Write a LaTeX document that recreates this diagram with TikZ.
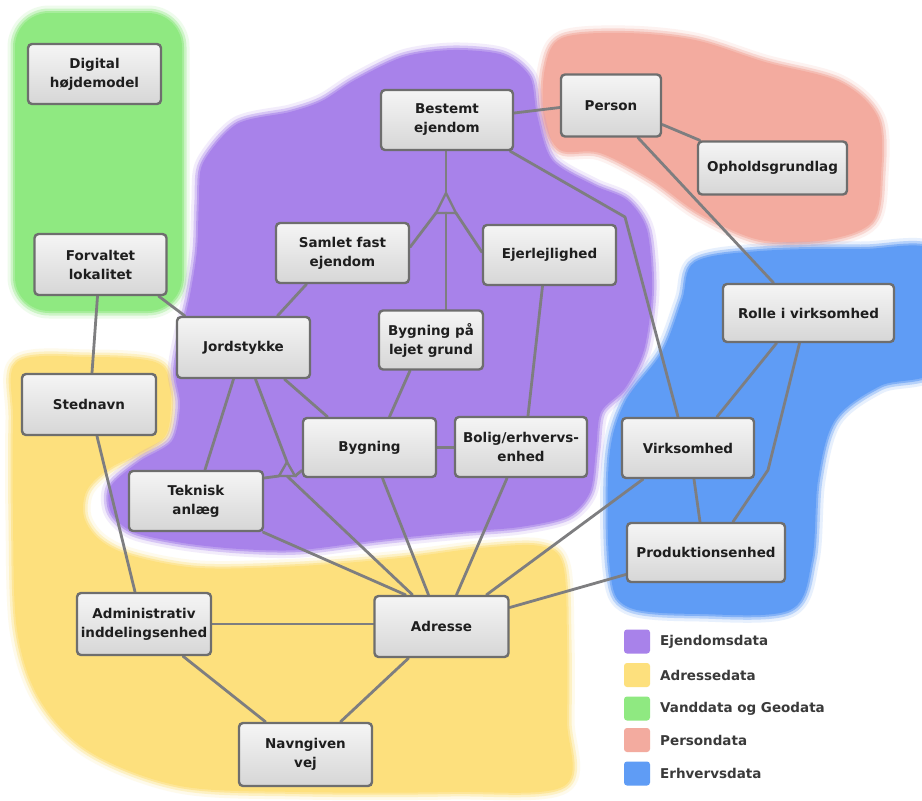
\documentclass[tikz,border=0pt]{standalone}
\usepackage{fontspec}
\setmainfont{DejaVu Sans}
\usetikzlibrary{calc}
\pgfdeclarelayer{bg}
\pgfdeclarelayer{lines}
\pgfsetlayers{bg,lines,main}
\definecolor{cP}{HTML}{A882EA}
\definecolor{cY}{HTML}{FDE07D}
\definecolor{cG}{HTML}{8FE981}
\definecolor{cR}{HTML}{F3AB9F}
\definecolor{cB}{HTML}{5F9CF5}
\definecolor{cBorder}{HTML}{6E6E6E}
\definecolor{cLine}{HTML}{7E7E80}
\definecolor{cTop}{HTML}{F5F5F5}
\definecolor{cBot}{HTML}{D6D6D6}
\definecolor{cText}{HTML}{1E1E1E}
\definecolor{cLeg}{HTML}{3A3A3A}
\begin{document}
\begin{tikzpicture}[x=1pt,y=-1pt,
  blob/.style={fill=#1, draw=#1, line width=4pt, draw opacity=0.6, line join=round,
    preaction={draw=#1, line width=9pt, draw opacity=0.35, line join=round},
    preaction={draw=#1, line width=15pt, draw opacity=0.15, line join=round}},
  ent/.style={draw=cBorder, line width=2.4pt, rounded corners=4pt, top color=cTop, bottom color=cBot,
    text=cText, font=\bfseries\fontsize{13.5}{19}\selectfont, align=center, inner sep=1pt},
  sz/.style 2 args={minimum width=#1pt, minimum height=#2pt},
  conn/.style={draw=cLine, line width=2.8pt, line cap=round, line join=round},
  gen/.style={draw=cLine, line width=2.4pt, line join=miter},
  legsq/.style={rounded corners=3pt, minimum width=26pt, minimum height=24pt, inner sep=0pt},
  legtxt/.style={anchor=west, text=cLeg, font=\bfseries\fontsize{13.5}{16}\selectfont, inner sep=0pt}
]
\useasboundingbox (0,0) rectangle (922,801);

% ---- coloured regions ----
\begin{pgfonlayer}{bg}
\fill[white] (0,0) rectangle (922,801);
\path[blob=cY] plot[smooth cycle, tension=0.55] coordinates {
  (17,362) (90,357) (155,362) (170,385) (168,430) (150,448) (110,468) (87,490) (84,517)
  (100,540) (133,556) (200,568) (300,566) (400,558) (480,548) (540,546) (563,565)
  (567,640) (567,720) (564,786) (450,792) (300,792) (180,786) (90,752) (40,700)
  (17,630) (13,520) (13,420)};
\path[blob=cG] [rounded corners=34pt] (15,13) rectangle (182,311);
\path[blob=cR] plot[smooth cycle, tension=0.55] coordinates {
  (562,38) (625,33) (695,40) (765,62) (840,82) (878,118) (881,175) (872,222) (825,240)
  (760,240) (700,214) (652,180) (600,153) (560,150) (544,118) (545,68)};
\path[blob=cB] plot[smooth cycle, tension=0.55] coordinates {
  (695,262) (760,251) (860,249) (940,255) (940,365) (880,386) (835,420) (818,480)
  (812,560) (790,610) (700,614) (628,607) (610,570) (609,460) (625,402) (662,352) (682,300)};
\path[blob=cP] plot[smooth cycle, tension=0.5] coordinates {
  (203,163) (237,124) (290,112) (322,101) (355,80) (403,57) (453,50) (503,55) (530,77)
  (537,115) (552,160) (593,185) (627,200) (647,230) (652,290) (644,350) (625,388)
  (601,412) (596,450) (590,492) (568,516) (520,527) (460,532) (380,540) (300,550)
  (240,549) (183,543) (133,532) (111,512) (111,486) (140,461) (172,441) (180,405)
  (175,372) (181,335) (190,295) (197,250) (199,200)};
\end{pgfonlayer}

% ---- entities ----
\node[ent, sz={133}{60}] (dig)   at (94.5,74)  {Digital\\højdemodel};
\node[ent, sz={132}{61}] (forv)  at (100.5,264.5) {Forvaltet\\lokalitet};
\node[ent, sz={134}{61}] (sted)  at (89,404.5) {Stednavn};
\node[ent, sz={132}{60}] (best)  at (447,120)  {Bestemt\\ejendom};
\node[ent, sz={100}{62}] (pers)  at (611,105.5) {Person};
\node[ent, sz={149}{53}] (oph)   at (772.5,168) {Opholdsgrundlag};
\node[ent, sz={133}{60}] (saml)  at (342.5,253) {Samlet fast\\ejendom};
\node[ent, sz={133}{60}] (ejer)  at (549.5,255) {Ejerlejlighed};
\node[ent, sz={133}{61}] (jord)  at (243.5,347.5) {Jordstykke};
\node[ent, sz={104}{59}] (blg)   at (431,340)  {Bygning på\\lejet grund};
\node[ent, sz={171}{58}] (rolle) at (808.5,313) {Rolle i virksomhed};
\node[ent, sz={133}{59}] (byg)   at (369.5,447.5) {Bygning};
\node[ent, sz={132}{60}] (bolig) at (521,447)  {Bolig/erhvervs-\\enhed};
\node[ent, sz={132}{60}] (virk)  at (688,448)  {Virksomhed};
\node[ent, sz={134}{60}] (tek)   at (196,501)  {Teknisk\\anlæg};
\node[ent, sz={158}{59}] (prod)  at (706,552.5) {Produktionsenhed};
\node[ent, sz={134}{62}] (adm)   at (144,624)  {Administrativ\\inddelingsenhed};
\node[ent, sz={134}{61}] (adr)   at (441.5,626.5) {Adresse};
\node[ent, sz={133}{63}] (navn)  at (305.5,754.5) {Navngiven\\vej};

% ---- bend points and generalisation triangles ----
\coordinate (k1) at (625,217);
\coordinate (k2) at (768,470);
\coordinate (g1) at (446,193);
\coordinate (g1l) at (436,213);
\coordinate (g1r) at (456,213);
\coordinate (g1b) at (446,213);
\coordinate (g2) at (287,462);
\coordinate (g2l) at (279,476);
\coordinate (g2r) at (295,476);
\coordinate (g2b) at (287,476);

% ---- connectors ----
\begin{pgfonlayer}{lines}
\draw[conn] ([xshift=-9pt]forv.south east) -- ([xshift=9pt]jord.north west);
\draw[conn] ([xshift=-3pt]forv.south) -- ([xshift=3pt]sted.north);
\draw[conn] ([xshift=8pt]sted.south) -- ([xshift=-9pt]adm.north);
\draw[conn] (adm.east) -- (adm.east -| adr.west);
\draw[conn] ([xshift=39pt]adm.south) -- ([xshift=-40pt]navn.north);
\draw[conn] ([xshift=-33pt]adr.south) -- ([xshift=35pt]navn.north);
\draw[conn] ([yshift=7pt]best.east) -- ([yshift=-2pt]pers.west);
\draw[conn] ([yshift=-19pt]pers.east) -- ([xshift=3pt]oph.north west);
\draw[conn] ([xshift=27pt]pers.south) -- ([xshift=-35pt]rolle.north);
\draw[conn] ([xshift=-4pt]best.south east) -- (k1) -- ([xshift=-10pt]virk.north);
\draw[conn] ([xshift=-32pt]rolle.south) -- ([xshift=29pt]virk.north);
\draw[conn] ([xshift=-9pt]rolle.south) -- (k2) -- ([xshift=27pt]prod.north);
\draw[conn] ([xshift=6pt]virk.south) -- ([xshift=-6pt]prod.north);
\draw[conn] ([xshift=-45pt]virk.south) -- ([xshift=45pt]adr.north);
\draw[conn] ([yshift=-22pt]prod.west) -- ([yshift=19pt]adr.east);
\draw[conn] ([xshift=-14pt]bolig.south) -- ([xshift=15pt]adr.north);
\draw[conn] (byg.east) -- (byg.east -| bolig.west);
\draw[conn] ([xshift=7pt]bolig.north) -- ([xshift=-7pt]ejer.south);
\draw[conn] ([xshift=13pt]byg.south) -- ([xshift=-13pt]adr.north);
\draw[conn] ([xshift=-21pt]blg.south) -- ([xshift=20pt]byg.north);
\draw[conn] ([xshift=41pt]jord.south) -- ([xshift=-42pt]byg.north);
\draw[conn] ([xshift=34pt]jord.north) -- ([xshift=-36pt]saml.south);
\draw[conn] ([xshift=-10pt]jord.south) -- ([xshift=9pt]tek.north);
\draw[conn] ([xshift=-1pt]tek.south east) -- ([xshift=-36pt]adr.north);
% generalisation 1
\draw[conn] (best.south -| g1) -- (g1);
\draw[gen] (g1) -- (g1l) -- (g1r) -- cycle;
\draw[conn] (g1l) -- ([yshift=6pt]saml.east);
\draw[conn] (g1b) -- (g1b |- blg.north);
\draw[conn] (g1r) -- ([yshift=3pt]ejer.west);
% generalisation 2
\draw[conn] ([xshift=12pt]jord.south) -- (g2);
\draw[gen] (g2) -- (g2l) -- (g2r) -- cycle;
\draw[conn] (g2l) -- ([yshift=23pt]tek.east);
\draw[conn] (g2r) -- ([yshift=-23pt]byg.west);
\draw[conn] (g2b) -- ([xshift=-29pt]adr.north);
\end{pgfonlayer}

% ---- legend ----
\node[legsq, fill=cP] (lq1) at (637,641.5) {};
\node[legsq, fill=cY] (lq2) at (637,675)   {};
\node[legsq, fill=cG] (lq3) at (637,708.5) {};
\node[legsq, fill=cR] (lq4) at (637,740)   {};
\node[legsq, fill=cB] (lq5) at (637,773.5) {};
\node[legtxt] (lt1) at (660,641.5) {Ejendomsdata};
\node[legtxt] (lt2) at (660,675)   {Adressedata};
\node[legtxt] (lt3) at (660,708.5) {Vanddata og Geodata};
\node[legtxt] (lt4) at (660,740)   {Persondata};
\node[legtxt] (lt5) at (660,773.5) {Erhvervsdata};
\end{tikzpicture}
\end{document}
